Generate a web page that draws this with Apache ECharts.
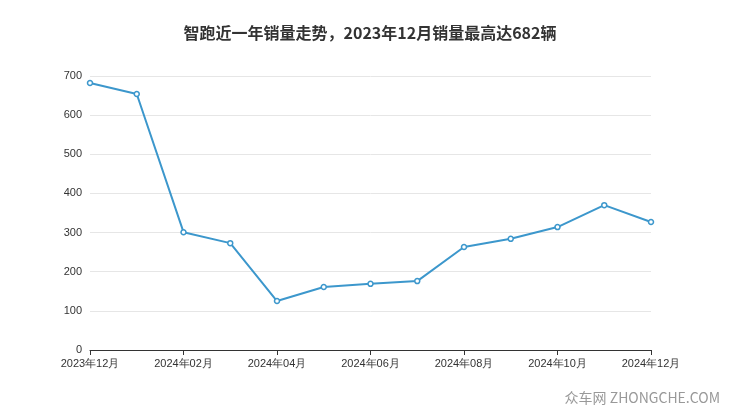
<!DOCTYPE html>
<html><head><meta charset="utf-8">
<script src="https://cdn.jsdelivr.net/npm/echarts@6/dist/echarts.min.js"></script>
<style>html,body{margin:0;padding:0;}#c{width:740px;height:417px;}</style>
</head><body><div id="c"></div>
<script>
const categories=['2023年12月','2024年01月','2024年02月','2024年03月','2024年04月','2024年05月','2024年06月','2024年07月','2024年08月','2024年09月','2024年10月','2024年11月','2024年12月'];
const sales=[682,654,301,273,125,161,169,176,263,284,314,370,327];
const chart=echarts.init(document.getElementById('c'));
chart.setOption({
  title:{text:'智跑近一年销量走势，2023年12月销量最高达682辆',left:'center',top:20,textStyle:{fontSize:16,fontWeight:'bold',color:'#333',fontFamily:'Noto Sans CJK SC'}},
  graphic:[{type:'text',right:20,bottom:12,style:{text:'众车网 ZHONGCHE.COM',fill:'#999',font:'14px "Noto Sans CJK SC"'}}],
  grid:{left:90,right:89,top:76,bottom:67},
  xAxis:{type:'category',data:categories,boundaryGap:false,
    axisLine:{lineStyle:{color:'#333'}},axisTick:{interval:1,lineStyle:{color:'#333'}},
    axisLabel:{interval:1,color:'#333',fontSize:11}},
  yAxis:{type:'value',min:0,max:700,interval:100,axisLabel:{color:'#333',fontSize:11},
    splitLine:{lineStyle:{color:'#e6e6e6'}}},
  series:[{type:'line',data:sales,symbol:'circle',symbolSize:5,
    itemStyle:{color:'#fff',borderColor:'#3c97cc',borderWidth:1.5},
    lineStyle:{color:'#3c97cc',width:2}}]
});
</script></body></html>
